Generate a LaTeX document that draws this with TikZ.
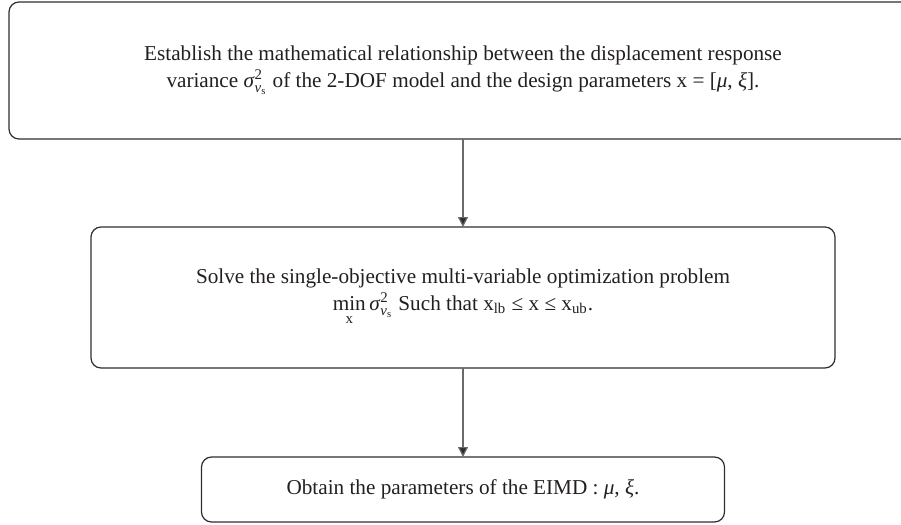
\documentclass[tikz,border=0pt]{standalone}
\usepackage{fontspec}
\usepackage{amsmath}
\setmainfont{Liberation Serif}
\usetikzlibrary{positioning,arrows.meta}
\definecolor{boxline}{HTML}{2E2E2E}
\definecolor{shaftgray}{HTML}{6A6A6A}
\definecolor{textgray}{HTML}{231F20}
\newcommand{\sigvs}{\textit{σ}$^{\text{2}}_{\text{\itshape ν}_{\text{s}}}$}

\begin{document}
\begin{tikzpicture}
[x=0.5pt, y=-0.5pt, node distance=44pt,
 stage/.style={draw=boxline, line width=0.6pt, rounded corners=5pt, align=center, text=textgray, inner sep=0pt, outer sep=0pt, font=\fontsize{10.6}{13.2}\selectfont},
 flow/.style={draw=shaftgray, line width=0.6pt, -{Triangle[width=5pt,length=5pt,fill=boxline]}}]
\useasboundingbox (0,0) rectangle (901,525);

\node (est) [stage, minimum width=454pt, minimum height=68.5pt] at (463,70.5)
	{Establish the mathematical relationship between the displacement response\\
	variance \sigvs\ of the 2-DOF model and the design parameters x = [\textit{μ}, \textit{ξ}].};
\node (solve) [stage, below=of est, minimum width=372pt, minimum height=70.5pt]
	{Solve the single-objective multi-variable optimization problem\\
	$\underset{\text{x}}{\text{min}}$\,\sigvs\ Such that x$_{\text{lb}}$ ≤ x ≤ x$_{\text{ub}}$.};
\node (obtain) [stage, below=44.5pt of solve, minimum width=261.5pt, minimum height=32.5pt]
	{Obtain the parameters of the EIMD : \textit{μ}, \textit{ξ}.};

\draw[flow] (est) -- (solve);
\draw[flow] (solve) -- (obtain);
\end{tikzpicture}
\end{document}
